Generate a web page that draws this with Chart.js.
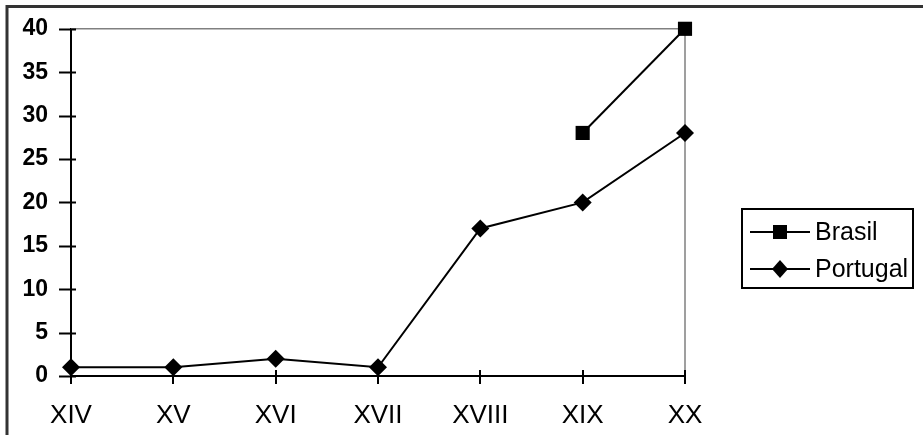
<!DOCTYPE html>
<html>
<head>
<meta charset="utf-8">
<script src="https://cdn.jsdelivr.net/npm/chart.js@4"></script>
<style>
  html, body { margin: 0; padding: 0; background: #fff; }
  #wrap { width: 923px; height: 435px; position: relative; }
</style>
</head>
<body>
<div id="wrap"><canvas id="chart" width="923" height="435"></canvas></div>
<script>
// Centuries on the x axis
const centuries = ['XIV', 'XV', 'XVI', 'XVII', 'XVIII', 'XIX', 'XX'];
// Series values
const brasilValues = [null, null, null, null, null, 28, 40];
const portugalValues = [1, 1, 2, 1, 17, 20, 28];
// Y tick labels
const yTicks = [0, 5, 10, 15, 20, 25, 30, 35, 40];

const FONT = '"Liberation Sans", Arial, sans-serif';

// frame, tick marks and the boxed legend, drawn like the old spreadsheet chart
const decorPlugin = {
    id: 'decor',
    beforeDatasetsDraw(chart) {
        const ctx = chart.ctx;
        const a = chart.chartArea;
        ctx.save();
        // gray top and right edges of the plot area
        ctx.strokeStyle = '#808080';
        ctx.lineWidth = 1.5;
        ctx.beginPath();
        ctx.moveTo(a.left, a.top);
        ctx.lineTo(a.right, a.top);
        ctx.lineTo(a.right, a.bottom);
        ctx.stroke();

        // tick marks crossing the axes
        ctx.strokeStyle = '#000';
        ctx.lineWidth = 2;
        const ys = chart.scales.y;
        yTicks.forEach(v => {
            const py = Math.round(ys.getPixelForValue(v)) + 0.5;
            ctx.beginPath();
            ctx.moveTo(a.left - 12, py);
            ctx.lineTo(a.left + 5, py);
            ctx.stroke();
        });
        const xs = chart.scales.x;
        centuries.forEach((c, i) => {
            const px = Math.round(xs.getPixelForValue(i));
            ctx.beginPath();
            ctx.moveTo(px, a.bottom - 6);
            ctx.lineTo(px, a.bottom + 8);
            ctx.stroke();
        });

        // outer picture border (top and left only)
        ctx.strokeStyle = '#333';
        ctx.lineWidth = 3;
        ctx.beginPath();
        ctx.moveTo(7, 435);
        ctx.lineTo(7, 6.5);
        ctx.lineTo(923, 6.5);
        ctx.stroke();
        ctx.restore();
    },
    afterDraw(chart) {
        const ctx = chart.ctx;
        ctx.save();
        ctx.strokeStyle = '#000';
        ctx.lineWidth = 2;
        ctx.strokeRect(742, 209, 171, 79);

        const rows = [
            { label: 'Brasil', y: 232, shape: 'square' },
            { label: 'Portugal', y: 269, shape: 'diamond' }
        ];
        rows.forEach(r => {
            ctx.strokeStyle = '#000';
            ctx.lineWidth = 2;
            ctx.beginPath();
            ctx.moveTo(750, r.y);
            ctx.lineTo(810, r.y);
            ctx.stroke();
            ctx.fillStyle = '#000';
            ctx.beginPath();
            if (r.shape === 'square') {
                ctx.rect(773, r.y - 7, 14, 14);
            } else {
                ctx.moveTo(780, r.y - 9);
                ctx.lineTo(788, r.y);
                ctx.lineTo(780, r.y + 9);
                ctx.lineTo(772, r.y);
                ctx.closePath();
            }
            ctx.fill();
            ctx.font = '25px ' + FONT;
            ctx.textAlign = 'left';
            ctx.textBaseline = 'middle';
            ctx.fillText(r.label, 815, r.y + 1);
        });
        ctx.restore();
    }
};

new Chart(document.getElementById('chart'), {
    type: 'line',
    data: {
        labels: centuries,
        datasets: [
            {
                label: 'Brasil',
                data: brasilValues,
                borderColor: '#000',
                backgroundColor: '#000',
                borderWidth: 2,
                pointStyle: 'rect',
                pointRadius: 10,
                pointBorderWidth: 0,
                tension: 0,
                clip: false,
                spanGaps: false
            },
            {
                label: 'Portugal',
                data: portugalValues,
                borderColor: '#000',
                backgroundColor: '#000',
                borderWidth: 2,
                pointStyle: 'rectRot',
                pointRadius: 9,
                pointBorderWidth: 0,
                tension: 0,
                clip: false
            }
        ]
    },
    options: {
        responsive: false,
        animation: false,
        layout: { padding: { left: 0, right: 238, top: 24, bottom: 0 } },
        plugins: {
            legend: { display: false },
            tooltip: { enabled: false }
        },
        scales: {
            x: {
                offset: false,
                grid: { display: false },
                border: { display: true, color: '#000', width: 2 },
                ticks: {
                    color: '#000',
                    font: { family: FONT, size: 26 },
                    padding: 16,
                    maxRotation: 0,
                    autoSkip: false
                },
                afterFit(scale) { scale.height = 59; }
            },
            y: {
                min: 0,
                max: 40,
                grid: { display: false },
                border: { display: true, color: '#000', width: 2 },
                ticks: {
                    stepSize: 5,
                    color: '#000',
                    font: { family: FONT, size: 23, weight: 'bold' },
                    padding: 15
                },
                afterFit(scale) { scale.width = 71; }
            }
        }
    },
    plugins: [decorPlugin]
});
</script>
</body>
</html>
